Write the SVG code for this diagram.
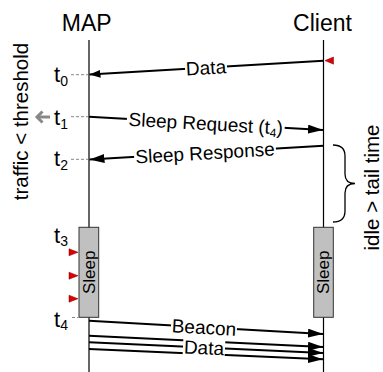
<svg xmlns="http://www.w3.org/2000/svg" width="383" height="372" viewBox="0 0 383 372">
<style>
  text { font-family: "Liberation Sans", Arial, sans-serif; fill: #000; }
  .head { font-size: 23px; text-anchor: middle; }
  .lbl { font-size: 19px; text-anchor: middle; }
  .t { font-size: 22px; }
  .sub { font-size: 14px; }
  .lsub { font-size: 12px; }
  .side { font-size: 20.5px; text-anchor: middle; }
  .sleeptxt { font-size: 17px; text-anchor: middle; }
  .msg { stroke: #000; stroke-width: 2; fill: none; }
  .tick { stroke: #888; stroke-width: 1; stroke-dasharray: 3 2; }
  .box { fill: #c0c0c0; stroke: #333; stroke-width: 1; }
  .red { fill: #e00000; stroke: #700; stroke-width: 0.5; }
  .bg { fill: #fff; }
</style>
<defs>
  <marker id="ah" markerUnits="userSpaceOnUse" markerWidth="15" markerHeight="9" refX="15" refY="4.5" orient="auto">
    <path d="M0,0 L15,4.5 L0,9 z" fill="#000"/>
  </marker>
  <marker id="ahs" markerUnits="userSpaceOnUse" markerWidth="11" markerHeight="8" refX="11" refY="4" orient="auto">
    <path d="M0,0 L11,4 L0,8 z" fill="#000"/>
  </marker>
</defs>

<!-- side annotations -->
<text class="side" transform="translate(28,121.5) rotate(-90)">traffic &lt; threshold</text>
<g id="gray-arrow" stroke="#888" stroke-width="3" fill="none">
  <line x1="50" y1="117" x2="37" y2="117"/>
  <path d="M42.5,111.5 L37,117 L42.5,122.5"/>
</g>
<text class="side" transform="translate(379,187.5) rotate(-90)">idle &gt; tail time</text>
<path id="brace" d="M333,145 Q345,145 345,156 L345,174 Q345,183.5 355,183.5 Q345,183.5 345,193 L345,211 Q345,222 333,222" fill="none" stroke="#000" stroke-width="1.3"/>

<!-- MAP node -->
<g id="map">
  <text class="head" x="86.7" y="30.5">MAP</text>
  <line x1="89" y1="40" x2="89" y2="372" stroke="#666" stroke-width="2"/>
  <rect class="box" x="79" y="227.3" width="19.7" height="90"/>
  <text class="sleeptxt" transform="translate(89,272.3) rotate(-90)" y="5.5">Sleep</text>
  <polygon class="red" points="78,252.3 69,248.8 69,255.8"/>
  <polygon class="red" points="78,275.7 69,272.2 69,279.2"/>
  <polygon class="red" points="78,298.7 69,295.2 69,302.2"/>
</g>

<!-- Client node -->
<g id="client">
  <text class="head" x="322.5" y="30.5">Client</text>
  <line x1="323.5" y1="40" x2="323.5" y2="372" stroke="#000" stroke-width="1.2"/>
  <rect class="box" x="313.7" y="227.3" width="19.6" height="90"/>
  <text class="sleeptxt" transform="translate(323.5,272.3) rotate(-90)" y="5.5">Sleep</text>
  <polygon class="red" points="325,60.6 333.5,57 333.5,64.2"/>
</g>

<!-- time ticks -->
<g id="ticks">
  <line class="tick" x1="71" y1="74.7" x2="88" y2="74.7"/>
  <line class="tick" x1="71" y1="116.7" x2="88" y2="116.7"/>
  <line class="tick" x1="71" y1="159.3" x2="88" y2="159.3"/>
  <line class="tick" x1="72" y1="317.5" x2="78" y2="317.5"/>
  <text class="t" x="54" y="81.7">t<tspan class="sub" dy="4">0</tspan></text>
  <text class="t" x="54" y="124.5">t<tspan class="sub" dy="4">1</tspan></text>
  <text class="t" x="54" y="166.4">t<tspan class="sub" dy="4">2</tspan></text>
  <text class="t" x="54" y="243">t<tspan class="sub" dy="3">3</tspan></text>
  <text class="t" x="54" y="326.5">t<tspan class="sub" dy="3">4</tspan></text>
</g>

<!-- connectors -->
<g id="connectors">
  <line class="msg" x1="323.5" y1="60.7" x2="89.5" y2="74.5" marker-end="url(#ahs)"/>
  <line class="msg" x1="89" y1="116.7" x2="323" y2="130" marker-end="url(#ah)"/>
  <line class="msg" x1="323.5" y1="145.7" x2="89.5" y2="159.5" marker-end="url(#ah)"/>
  <line class="msg" x1="89" y1="320.7" x2="323" y2="334" marker-end="url(#ah)"/>
  <line class="msg" x1="89" y1="335.7" x2="323" y2="347" marker-end="url(#ah)"/>
  <line class="msg" x1="89" y1="342.3" x2="323" y2="353" marker-end="url(#ah)"/>
  <line class="msg" x1="89" y1="349" x2="323" y2="359.3" marker-end="url(#ah)"/>
</g>

<!-- connector labels -->
<g id="labels">
  <g transform="translate(206,67.6) rotate(-3.37)">
    <rect class="bg" x="-21" y="-8" width="42" height="16"/>
    <text class="lbl" y="6.8">Data</text>
  </g>
  <g transform="translate(205.8,123.3) rotate(3.25)">
    <rect class="bg" x="-79" y="-8" width="158" height="16"/>
    <text class="lbl" y="6.8">Sleep Request (t<tspan class="lsub" dy="3">4</tspan><tspan dy="-3">)</tspan></text>
  </g>
  <g transform="translate(205,152.7) rotate(-3.37)">
    <rect class="bg" x="-71" y="-8" width="142" height="16"/>
    <text class="lbl" y="6.8">Sleep Response</text>
  </g>
  <g transform="translate(204,327.2) rotate(3.25)">
    <rect class="bg" x="-33" y="-7" width="66" height="14"/>
    <text class="lbl" y="6.8">Beacon</text>
  </g>
  <g transform="translate(204,347.5) rotate(2.6)">
    <rect class="bg" x="-21" y="-8.5" width="42" height="17"/>
    <text class="lbl" y="6.8">Data</text>
  </g>
</g>
</svg>
